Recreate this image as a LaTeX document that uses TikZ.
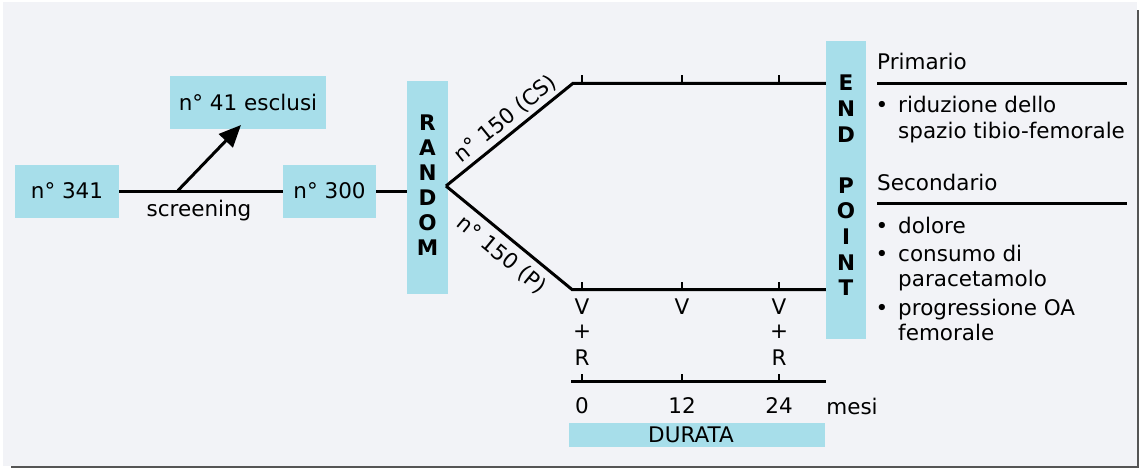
\documentclass[tikz,border=0pt]{standalone}
\usepackage{fontspec}
\setmainfont{DejaVu Sans}
\usetikzlibrary{arrows.meta}
\definecolor{boxc}{HTML}{A7DEEA}
\definecolor{bgc}{HTML}{F2F3F7}
\definecolor{shc}{HTML}{555555}
\begin{document}
\begin{tikzpicture}[x=1pt,y=-1pt,
  box/.style={fill=boxc, inner sep=0pt, font=\fontsize{21.5}{25}\selectfont},
  txt/.style={inner sep=0pt, font=\fontsize{21.5}{25}\selectfont},
  vtxt/.style={inner sep=0pt, align=center, font=\fontsize{21.5}{25}\selectfont\bfseries},
  ln/.style={line width=3pt},
  tk/.style={line width=2.8pt},
]
\useasboundingbox (0,0) rectangle (1139,468);
% background panel with shadow
\fill[shc] (11,10) rectangle (1139,468);
\fill[bgc] (3,2) rectangle (1137,465.5);

% boxes
\node[box, minimum width=104pt, minimum height=53pt] (n341) at (67,191) {n° 341};
\node[box, minimum width=156pt, minimum height=53pt] (n41) at (248,102.5) {n° 41 esclusi};
\node[box, minimum width=93pt, minimum height=53pt] (n300) at (329.5,191) {n° 300};
\node[box, minimum width=41pt, minimum height=213pt] (rnd) at (427.5,187.5) {};
\node[vtxt] (rndt) at (427.5,185) {R\\A\\N\\D\\O\\M};
\node[box, minimum width=40pt, minimum height=298pt] (ep) at (846,190) {};
\node[vtxt, font=\fontsize{21.5}{25.6}\selectfont\bfseries] (ept) at (846,185.5) {E\\N\\D\\[25.6pt]P\\O\\I\\N\\T};
\node[box, minimum width=256pt, minimum height=24pt] (dur) at (697,435.3) {};
\node[txt] (durt) at (691,435.3) {DURATA};

% screening line and arrow
\coordinate (sp) at (178,190.5);
\coordinate (at) at (241,125);
\draw[ln] (n341.east) -- (n300.west);
\draw[ln, -{Triangle[length=22pt,width=19pt]}] (sp) -- (at);
\node[txt] (scr) at (199,211) {screening};
\draw[ln] (n300.east) -- (rnd.west |- n300.east);

% branches
\coordinate (split) at (446,186);
\coordinate (ub) at (573,83.3);
\coordinate (lb) at (572,289.5);
\draw[ln, line join=miter] (split) -- (ub) -- (ep.west |- ub);
\draw[ln, line join=miter] (split) -- (lb) -- (ep.west |- lb);
\node[txt, rotate=39] (cs) at (505.5,119) {n° 150 (CS)};
\node[txt, rotate=-39.5] (pl) at (501.5,255) {n° 150 (P)};

% ticks
\foreach \x in {582,682,779} {
  \draw[tk] (\x,83.3) -- (\x,75);
  \draw[tk] (\x,289.5) -- (\x,281.5);
  \draw[tk] (\x,381.7) -- (\x,374);
}
% visits
\node[txt] (v1) at (582,306.7) {V};
\node[txt] (p1) at (582,332) {+};
\node[txt] (r1) at (582,358) {R};
\node[txt] (v2) at (682,306.7) {V};
\node[txt] (v3) at (779,306.7) {V};
\node[txt] (p3) at (779,332) {+};
\node[txt] (r3) at (779,358) {R};

% time axis
\coordinate (ax0) at (571,381.7);
\coordinate (ax1) at (826,381.7);
\draw[ln] (ax0) -- (ax1);
\node[txt] (t0) at (582,406) {0};
\node[txt] (t12) at (682,406) {12};
\node[txt] (t24) at (779,406) {24};
\node[txt] (mesi) at (852,406) {mesi};

% end points text
\node[txt, anchor=base west] (prim) at (877,70) {Primario};
\draw[ln] (877,83.3) -- (1127,83.3);
\node[txt, anchor=base] (b1) at (882,113) {•};
\node[txt, anchor=base west] (l1) at (898,113) {riduzione dello};
\node[txt, anchor=base west] (l2) at (898,138) {spazio tibio-femorale};
\node[txt, anchor=base west] (sec) at (877,190) {Secondario};
\draw[ln] (877,203.3) -- (1127,203.3);
\node[txt, anchor=base] (b2) at (882,233) {•};
\node[txt, anchor=base west] (l3) at (898,233) {dolore};
\node[txt, anchor=base] (b3) at (882,261) {•};
\node[txt, anchor=base west] (l4) at (898,261) {consumo di};
\node[txt, anchor=base west] (l5) at (898,286) {paracetamolo};
\node[txt, anchor=base] (b4) at (882,315) {•};
\node[txt, anchor=base west] (l6) at (898,315) {progressione OA};
\node[txt, anchor=base west] (l7) at (898,340) {femorale};
\end{tikzpicture}
\end{document}
